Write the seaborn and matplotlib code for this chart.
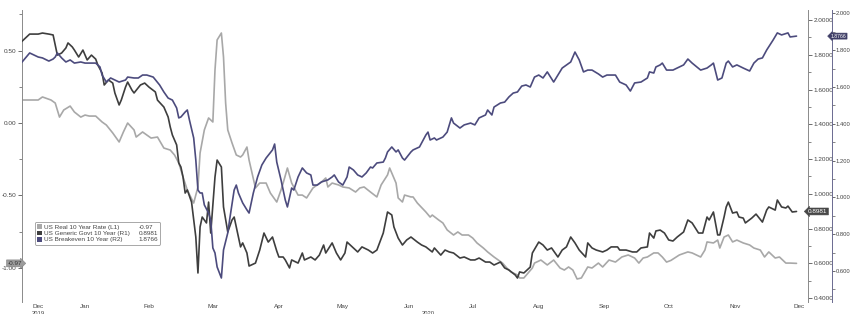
import pandas as pd
import matplotlib
matplotlib.use("Agg")
import matplotlib.pyplot as plt
import seaborn as sns
from matplotlib.ticker import MultipleLocator, FormatStrFormatter, FixedLocator
from matplotlib.transforms import ScaledTranslation, blended_transform_factory
from matplotlib.patches import Patch

# ---------------- data (days counted from 2019-12-17) ----------------
start_date = "2019-12-17"

real_days = [0, 4, 8, 10, 14, 16, 18, 20, 23, 25, 28, 30, 32, 35, 38, 40, 43, 46, 48, 50,
             53, 54, 57, 59, 61, 64, 67, 70, 72, 74, 76, 78, 81, 83, 84, 86, 88, 90, 91, 92,
             94, 95, 96, 97, 99, 101, 103, 104, 106, 107, 110, 112, 115, 117, 120, 122, 123, 125, 127, 130,
             132, 134, 137, 139, 141, 143, 144, 146, 149, 151, 154, 157, 159, 161, 164, 167, 169, 172, 173, 176,
             177, 179, 180, 183, 184, 186, 190, 192, 193, 196, 198, 200, 203, 205, 207, 210, 212, 214, 217, 219,
             222, 226, 228, 230, 233, 234, 236, 238, 240, 241, 244, 247, 250, 253, 255, 257, 259, 261, 263, 266,
             268, 271, 273, 276, 279, 282, 285, 288, 290, 292, 294, 297, 299, 301, 303, 305, 309, 313, 315, 319,
             321, 322, 325, 327, 328, 330, 332, 334, 336, 339, 342, 344, 347, 349, 351, 354, 356, 359, 361, 364]
real_vals = [0.159, 0.159, 0.159, 0.180, 0.159, 0.138, 0.041, 0.090, 0.117, 0.076, 0.041, 0.055, 0.048, 0.048, 0.007, -0.014, -0.069, -0.131, -0.062, 0.000,
             -0.048, -0.097, -0.062, -0.083, -0.104, -0.097, -0.173, -0.187, -0.221, -0.276, -0.373, -0.463, -0.553, -0.442, -0.207, -0.048, 0.035, 0.007, 0.366, 0.574,
             0.622, 0.456, 0.138, -0.048, -0.138, -0.221, -0.235, -0.221, -0.166, -0.256, -0.449, -0.415, -0.415, -0.484, -0.546, -0.463, -0.415, -0.311, -0.415, -0.498,
             -0.498, -0.518, -0.449, -0.428, -0.408, -0.380, -0.442, -0.415, -0.428, -0.442, -0.449, -0.477, -0.449, -0.442, -0.477, -0.511, -0.428, -0.359, -0.311, -0.415,
             -0.518, -0.546, -0.498, -0.511, -0.511, -0.553, -0.615, -0.650, -0.636, -0.670, -0.691, -0.739, -0.774, -0.753, -0.774, -0.774, -0.795, -0.829, -0.864, -0.891,
             -0.926, -0.968, -1.002, -1.030, -1.050, -1.071, -1.071, -1.037, -1.002, -0.968, -0.947, -0.981, -0.947, -1.002, -1.016, -0.995, -1.016, -1.078, -1.071, -0.995,
             -1.002, -0.968, -0.995, -0.947, -0.961, -0.926, -0.912, -0.933, -0.968, -0.933, -0.926, -0.898, -0.898, -0.926, -0.961, -0.950, -0.912, -0.891, -0.898, -0.926,
             -0.878, -0.822, -0.829, -0.809, -0.864, -0.788, -0.774, -0.822, -0.809, -0.829, -0.843, -0.864, -0.878, -0.926, -0.891, -0.933, -0.926, -0.968, -0.968, -0.970]

govt_days = [0, 4, 8, 10, 13, 15, 17, 19, 21, 22, 24, 25, 27, 29, 30, 31, 33, 35, 36, 38,
             39, 41, 43, 44, 46, 47, 49, 50, 52, 53, 56, 58, 60, 63, 64, 67, 69, 70, 71, 73,
             74, 75, 76, 77, 78, 80, 82, 83, 84, 85, 87, 88, 89, 91, 92, 94, 95, 97, 99, 100,
             103, 104, 106, 107, 110, 112, 114, 116, 118, 120, 121, 123, 124, 126, 127, 130, 132, 133, 136, 138,
             140, 142, 143, 146, 148, 150, 152, 153, 156, 158, 160, 163, 165, 167, 170, 172, 174, 175, 177, 179,
             181, 183, 186, 188, 190, 193, 194, 197, 199, 201, 203, 206, 208, 211, 213, 215, 218, 220, 222, 225,
             227, 229, 232, 233, 234, 236, 239, 240, 243, 245, 247, 249, 252, 254, 256, 258, 260, 262, 265, 266,
             268, 270, 273, 275, 277, 280, 281, 284, 287, 289, 291, 294, 295, 297, 298, 300, 302, 304, 306, 308,
             311, 313, 315, 318, 320, 322, 323, 325, 327, 328, 330, 331, 332, 334, 336, 337, 339, 340, 343, 345,
             348, 350, 351, 354, 355, 357, 359, 360, 362, 364]
govt_vals = [1.873, 1.919, 1.919, 1.925, 1.919, 1.914, 1.798, 1.810, 1.839, 1.868, 1.845, 1.827, 1.787, 1.827, 1.798, 1.770, 1.798, 1.775, 1.741, 1.695,
             1.626, 1.655, 1.637, 1.580, 1.511, 1.539, 1.614, 1.643, 1.597, 1.580, 1.626, 1.637, 1.614, 1.586, 1.539, 1.499, 1.442, 1.384, 1.338, 1.281,
             1.177, 1.154, 1.096, 1.004, 1.022, 0.952, 0.751, 0.544, 0.809, 0.866, 0.832, 0.952, 0.774, 1.096, 1.194, 1.154, 0.924, 0.780, 0.849, 0.866,
             0.694, 0.717, 0.659, 0.584, 0.601, 0.676, 0.774, 0.722, 0.751, 0.670, 0.636, 0.636, 0.619, 0.573, 0.619, 0.601, 0.659, 0.619, 0.636, 0.619,
             0.647, 0.705, 0.659, 0.717, 0.659, 0.619, 0.659, 0.722, 0.688, 0.665, 0.694, 0.676, 0.659, 0.676, 0.774, 0.895, 0.878, 0.809, 0.745, 0.705,
             0.734, 0.751, 0.722, 0.705, 0.694, 0.665, 0.688, 0.647, 0.676, 0.665, 0.659, 0.630, 0.636, 0.619, 0.619, 0.630, 0.607, 0.607, 0.590, 0.607,
             0.573, 0.561, 0.532, 0.515, 0.550, 0.544, 0.578, 0.659, 0.722, 0.705, 0.676, 0.688, 0.636, 0.676, 0.694, 0.751, 0.717, 0.676, 0.636, 0.717,
             0.688, 0.676, 0.665, 0.676, 0.694, 0.694, 0.676, 0.676, 0.665, 0.665, 0.688, 0.694, 0.774, 0.745, 0.786, 0.791, 0.774, 0.734, 0.728, 0.751,
             0.780, 0.849, 0.832, 0.774, 0.774, 0.866, 0.849, 0.895, 0.763, 0.763, 0.866, 0.924, 0.952, 0.889, 0.895, 0.866, 0.860, 0.832, 0.860, 0.883,
             0.837, 0.906, 0.924, 0.906, 0.964, 0.924, 0.918, 0.929, 0.895, 0.8981]

be_days = [0, 4, 8, 10, 13, 15, 16, 17, 19, 21, 23, 25, 28, 30, 32, 35, 37, 38, 40, 42,
           44, 46, 49, 50, 53, 55, 57, 59, 62, 65, 67, 69, 71, 73, 74, 75, 77, 78, 79, 81,
           82, 83, 84, 85, 86, 88, 89, 90, 91, 92, 94, 95, 97, 98, 100, 101, 102, 104, 106, 107,
           109, 111, 113, 115, 118, 119, 120, 122, 124, 125, 127, 128, 130, 132, 134, 136, 137, 139, 141, 144,
           146, 147, 149, 151, 153, 154, 156, 158, 160, 162, 164, 165, 167, 170, 171, 172, 174, 176, 177, 179,
           180, 183, 184, 187, 190, 191, 192, 194, 195, 198, 200, 202, 203, 206, 208, 211, 213, 215, 218, 219,
           221, 222, 225, 227, 229, 231, 233, 235, 237, 239, 241, 243, 245, 247, 250, 252, 254, 258, 260, 262,
           264, 266, 268, 271, 273, 275, 279, 281, 284, 286, 288, 291, 294, 295, 297, 298, 300, 301, 303, 306,
           309, 311, 313, 315, 319, 322, 324, 325, 327, 329, 331, 332, 334, 336, 339, 342, 344, 346, 348, 350,
           353, 355, 357, 360, 361, 364]
be_vals = [1.730, 1.785, 1.763, 1.758, 1.741, 1.752, 1.763, 1.785, 1.758, 1.736, 1.747, 1.730, 1.736, 1.730, 1.730, 1.730, 1.709, 1.665, 1.627, 1.649,
           1.638, 1.627, 1.638, 1.654, 1.649, 1.649, 1.665, 1.665, 1.654, 1.611, 1.573, 1.540, 1.529, 1.486, 1.432, 1.437, 1.464, 1.475, 1.421, 1.323,
           1.203, 1.040, 1.024, 1.024, 0.959, 0.915, 0.877, 0.725, 0.698, 0.622, 0.562, 0.714, 0.807, 0.888, 1.040, 1.067, 1.024, 0.970, 0.932, 0.915,
           1.024, 1.111, 1.176, 1.214, 1.258, 1.290, 1.192, 1.095, 0.986, 0.948, 1.051, 1.040, 1.111, 1.160, 1.133, 1.122, 1.067, 1.067, 1.084, 1.095,
           1.111, 1.122, 1.084, 1.067, 1.111, 1.165, 1.149, 1.122, 1.111, 1.133, 1.165, 1.160, 1.187, 1.192, 1.214, 1.247, 1.274, 1.247, 1.258, 1.214,
           1.203, 1.247, 1.258, 1.274, 1.339, 1.355, 1.312, 1.323, 1.312, 1.328, 1.355, 1.432, 1.404, 1.377, 1.394, 1.404, 1.394, 1.432, 1.448, 1.475,
           1.448, 1.491, 1.513, 1.518, 1.546, 1.567, 1.573, 1.605, 1.611, 1.600, 1.654, 1.665, 1.649, 1.682, 1.627, 1.665, 1.703, 1.736, 1.790, 1.747,
           1.682, 1.692, 1.692, 1.671, 1.654, 1.665, 1.665, 1.627, 1.611, 1.578, 1.622, 1.627, 1.649, 1.682, 1.676, 1.709, 1.720, 1.730, 1.692, 1.692,
           1.709, 1.720, 1.752, 1.730, 1.692, 1.703, 1.720, 1.730, 1.638, 1.649, 1.730, 1.741, 1.709, 1.720, 1.703, 1.687, 1.730, 1.752, 1.758, 1.801,
           1.855, 1.894, 1.883, 1.894, 1.872, 1.8766]

series_names = ["US Real 10 Year Rate (L1)", "US Generic Govt 10 Year (R1)", "US Breakeven 10 Year (R2)"]
month_label_dates = ["2019-12-25", "2020-01-16", "2020-02-15", "2020-03-16", "2020-04-16", "2020-05-16",
                     "2020-06-16", "2020-07-16", "2020-08-16", "2020-09-16", "2020-10-16", "2020-11-16", "2020-12-16"]
month_labels = ["Dec", "Jan", "Feb", "Mar", "Apr", "May", "Jun", "Jul", "Aug", "Sep", "Oct", "Nov", "Dec"]
year_label_dates = ["2019-12-25", "2020-06-25"]
year_labels = ["2019", "2020"]

# ---------------- build frames ----------------
start = pd.Timestamp(start_date)
def make_df(days, vals):
    return pd.DataFrame({"date": start + pd.to_timedelta(days, unit="D"), "value": vals})

df_real = make_df(real_days, real_vals)
df_govt = make_df(govt_days, govt_vals)
df_be = make_df(be_days, be_vals)

# ---------------- style ----------------
sns.set_theme(style="white")
plt.rcParams["font.family"] = ["Liberation Sans", "DejaVu Sans"]

c_real = "#a8a8a8"
c_govt = "#3e3e3e"
c_be = "#4c4b7d"
tick_c = "#555555"
fs = 4.6

fig = plt.figure(figsize=(8.5, 3.14), dpi=100)
ax = fig.add_axes([22 / 850, 12 / 314, 786 / 850, 292 / 314])
ax2 = ax.twinx()
ax3 = ax.twinx()

sns.lineplot(data=df_real, x="date", y="value", ax=ax, color=c_real, lw=1.2)
sns.lineplot(data=df_govt, x="date", y="value", ax=ax2, color=c_govt, lw=1.2)
sns.lineplot(data=df_be, x="date", y="value", ax=ax3, color=c_be, lw=1.2)

for a in (ax, ax2, ax3):
    a.set_xlabel("")
    a.set_ylabel("")

ax.set_xlim(start + pd.Timedelta(days=0.4), start + pd.Timedelta(days=369.4))
ax.set_ylim(-1.237, 0.781)
ax2.set_ylim(0.377, 2.0576)
ax3.set_ylim(0.4315, 2.0185)

# spines
for s in ("top", "bottom", "right"):
    ax.spines[s].set_visible(False)
ax.spines["left"].set_color("#8a8a8a")
ax.spines["left"].set_linewidth(0.7)
for a in (ax2, ax3):
    for s in ("top", "bottom", "left"):
        a.spines[s].set_visible(False)
    a.spines["right"].set_linewidth(0.7)
ax2.spines["right"].set_color("#8a8a8a")
ax3.spines["right"].set_color("#6a6a90")
ax3.spines["right"].set_position(("outward", 24 * 72 / 100))

# y ticks
ax.yaxis.set_major_locator(FixedLocator([-1.0, -0.5, 0.0, 0.5]))
ax.yaxis.set_major_formatter(FormatStrFormatter("%.2f"))
ax.yaxis.set_minor_locator(MultipleLocator(0.25))
ax2.yaxis.set_major_locator(MultipleLocator(0.2))
ax2.yaxis.set_major_formatter(FormatStrFormatter("%.4f"))
ax2.yaxis.set_minor_locator(MultipleLocator(0.1))
ax3.yaxis.set_major_locator(MultipleLocator(0.2))
ax3.yaxis.set_major_formatter(FormatStrFormatter("%.3f"))
ax3.yaxis.set_minor_locator(MultipleLocator(0.1))
for a in (ax, ax2, ax3):
    a.tick_params(axis="y", which="major", direction="out", length=3, width=0.6,
                  color=tick_c, labelsize=fs, labelcolor="#444444", pad=1.2)
    a.tick_params(axis="y", which="minor", direction="out", length=2, width=0.5, color=tick_c)
ax3.tick_params(axis="y", which="major", length=2.2, labelsize=4.2, pad=0.6)

# x ticks (month labels centred mid-month)
ax.set_xticks(pd.to_datetime(month_label_dates))
ax.set_xticklabels(month_labels)
ax.tick_params(axis="x", length=0, labelsize=fs, labelcolor="#444444", pad=1.5)
trx = blended_transform_factory(ax.transData, ax.transAxes)
for d, t in zip(year_label_dates, year_labels):
    ax.text(pd.Timestamp(d), -0.038, t, transform=trx, ha="center", va="center",
            fontsize=fs - 0.4, color="#444444")

# last value tags
tr_l = blended_transform_factory(ax.transAxes, ax.transData)
ax.text(0.0, real_vals[-1], f"{real_vals[-1]:.2f}", transform=tr_l, ha="right", va="center",
        fontsize=fs, color="#333333", zorder=10, clip_on=False,
        bbox=dict(boxstyle="rarrow,pad=0.15", fc="#9c9c9c", ec="#808080", lw=0.4))
tr_r1 = blended_transform_factory(ax2.transAxes, ax2.transData)
ax2.text(1.0, govt_vals[-1], f"{govt_vals[-1]:.4f}", transform=tr_r1, ha="left", va="center",
         fontsize=fs, color="white", zorder=10, clip_on=False,
         bbox=dict(boxstyle="larrow,pad=0.15", fc="#474747", ec="#474747", lw=0.4))
tr_r2 = blended_transform_factory(ax3.transAxes + ScaledTranslation(0.228, 0, fig.dpi_scale_trans),
                                  ax3.transData)
ax3.text(1.0, be_vals[-1], f"{be_vals[-1]:.4f}", transform=tr_r2, ha="left", va="center",
         fontsize=3.7, color="white", zorder=10, clip_on=False,
         bbox=dict(boxstyle="larrow,pad=0.1", fc="#3e3d66", ec="#3e3d66", lw=0.4))

# legend with value column
colors = [c_real, c_govt, c_be]
last_vals = [f"{real_vals[-1]:.2f}", f"{govt_vals[-1]:.4f}", f"{be_vals[-1]:.4f}"]
handles = [Patch(fc=c, ec="none") for c in colors] + [Patch(fc="none", ec="none") for _ in colors]
labels = series_names + last_vals
leg = ax3.legend(handles=handles, labels=labels, ncol=2, loc="upper left",
                 bbox_to_anchor=(0.0165, 0.274), bbox_transform=ax.transAxes,
                 fontsize=fs, frameon=True, fancybox=True, framealpha=1,
                 edgecolor="#9a9a9a", facecolor="white",
                 handlelength=0.8, handleheight=0.8, handletextpad=0.3,
                 columnspacing=0.2, labelspacing=0.1, borderpad=0.35, borderaxespad=0)
leg.get_frame().set_linewidth(0.6)
for t in leg.get_texts():
    t.set_color("#444444")

fig.savefig("out.png", dpi=100)
